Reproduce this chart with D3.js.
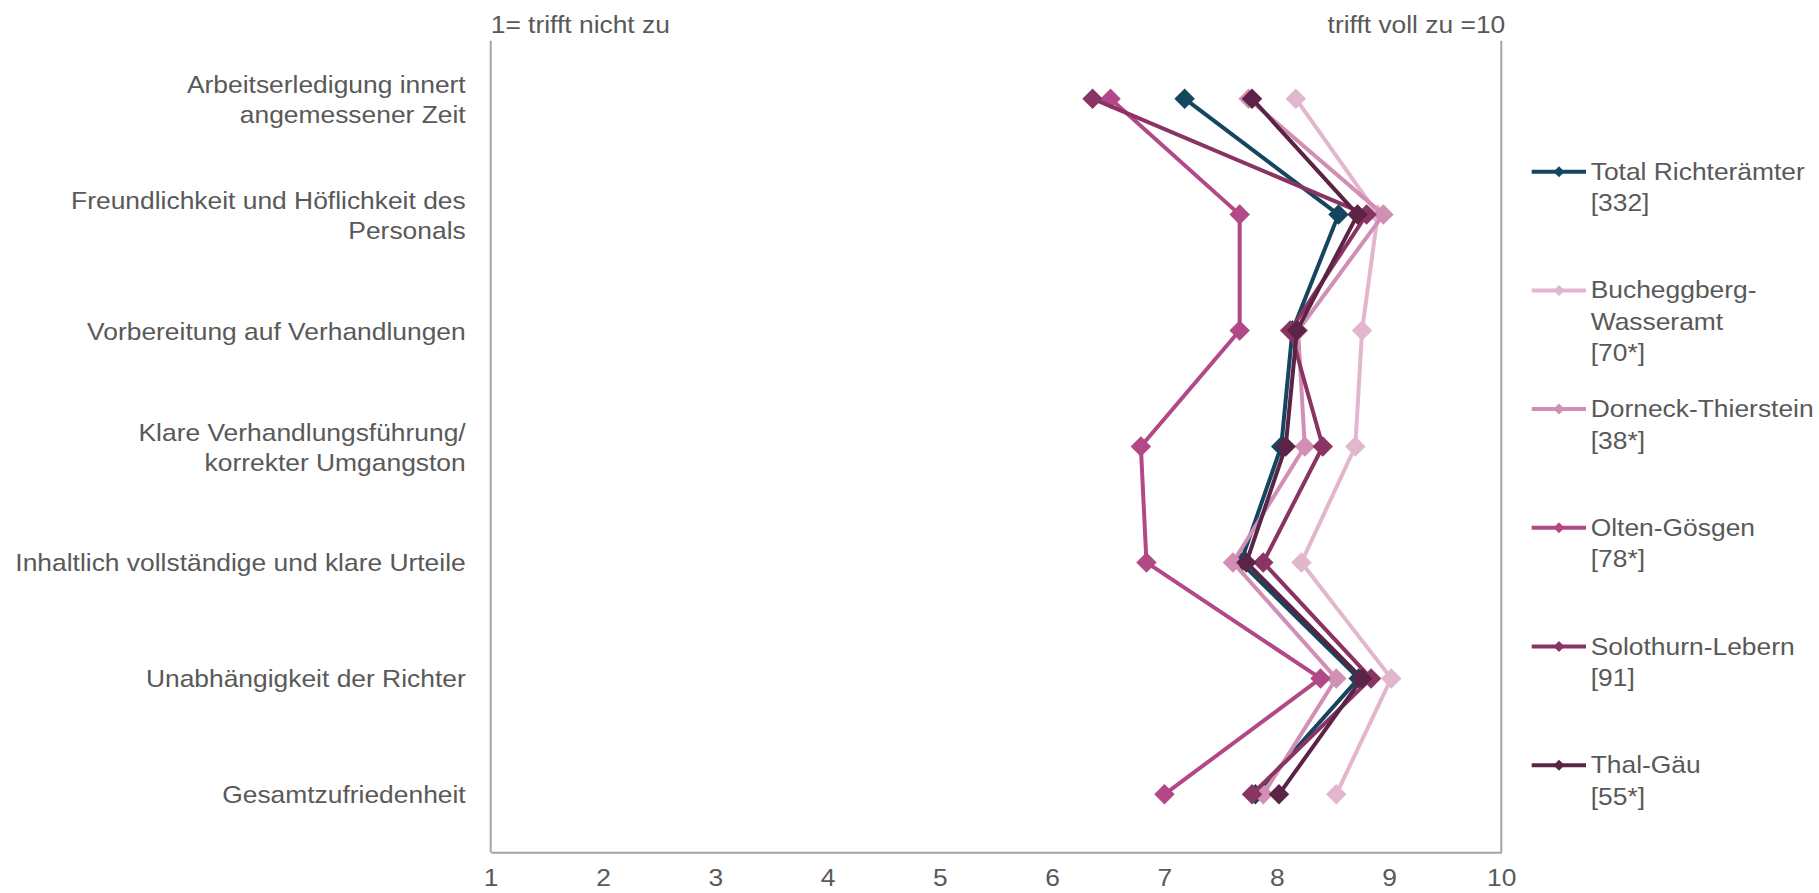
<!DOCTYPE html>
<html>
<head>
<meta charset="utf-8">
<script src="https://cdn.jsdelivr.net/npm/d3@7"></script>
<style>
  html, body { margin: 0; padding: 0; background: #ffffff; }
  svg text { font-family: "Liberation Sans", Arial, sans-serif; fill: #595959; }
</style>
</head>
<body>
<svg id="chart" width="1819" height="893"></svg>
<script>
// ---------- data ----------
const categories = [
  ["Arbeitserledigung innert", "angemessener Zeit"],
  ["Freundlichkeit und Höflichkeit des", "Personals"],
  ["Vorbereitung auf Verhandlungen"],
  ["Klare Verhandlungsführung/", "korrekter Umgangston"],
  ["Inhaltlich vollständige und klare Urteile"],
  ["Unabhängigkeit der Richter"],
  ["Gesamtzufriedenheit"]
];
const seriesNames = [
  ["Total Richterämter", "[332]"],
  ["Bucheggberg-", "Wasseramt", "[70*]"],
  ["Dorneck-Thierstein", "[38*]"],
  ["Olten-Gösgen", "[78*]"],
  ["Solothurn-Lebern", "[91]"],
  ["Thal-Gäu", "[55*]"]
];
const seriesColors = ["#15465f", "#e2b6cd", "#d28fb6", "#b24885", "#893463", "#5b2345"];
const totalValues       = [7.18, 8.55, 8.14, 8.04, 7.68, 8.73, 7.81];
const bucheggbergValues = [8.17, 8.90, 8.76, 8.70, 8.22, 9.02, 8.53];
const dorneckValues     = [7.75, 8.95, 8.19, 8.25, 7.61, 8.53, 7.88];
const oltenValues       = [6.52, 7.67, 7.67, 6.79, 6.84, 8.39, 7.00];
const solothurnValues   = [6.36, 8.80, 8.12, 8.41, 7.88, 8.84, 7.78];
const thalValues        = [7.78, 8.72, 8.18, 8.08, 7.73, 8.76, 8.02];
const seriesValues = [totalValues, bucheggbergValues, dorneckValues, oltenValues, solothurnValues, thalValues];
const xTicks = [1, 2, 3, 4, 5, 6, 7, 8, 9, 10];
const leftNote = "1= trifft nicht zu";
const rightNote = "trifft voll zu =10";

// ---------- layout ----------
const svg = d3.select("#chart");
const plot = { left: 490.7, right: 1501.3, top: 40.7, bottom: 852.3 };
const FS = 24, SX = 1.1;   // font size and horizontal stretch of text
const axisColor = "#a3a3a3";

const x = d3.scaleLinear().domain([1, 10]).range([plot.left, plot.right]);
const y = d3.scaleBand().domain(d3.range(categories.length)).range([plot.top, plot.bottom]);
const yc = i => y(i) + y.bandwidth() / 2;

function stretchedText(g, tx, ty, str, anchor) {
  return g.append("text")
    .attr("transform", `translate(${tx},${ty}) scale(${SX},1)`)
    .attr("text-anchor", anchor)
    .style("font-size", FS + "px")
    .text(str);
}

// frame lines (left, right axis lines; bottom axis)
svg.append("line").attr("x1", plot.left).attr("x2", plot.left)
  .attr("y1", plot.top).attr("y2", plot.bottom)
  .attr("stroke", axisColor).attr("stroke-width", 2);
svg.append("line").attr("x1", plot.right).attr("x2", plot.right)
  .attr("y1", plot.top).attr("y2", plot.bottom)
  .attr("stroke", axisColor).attr("stroke-width", 2);

const xAxis = d3.axisBottom(x).tickValues(xTicks).tickSize(0).tickPadding(0).tickFormat(d3.format("d"));
const gx = svg.append("g").attr("transform", `translate(0,${plot.bottom})`).call(xAxis);
gx.select(".domain").attr("stroke", axisColor).attr("stroke-width", 2);
gx.selectAll(".tick text")
  .attr("y", 34).attr("dy", 0)
  .attr("transform", `scale(${SX},1)`)
  .style("font-size", FS + "px")
  .style("font-family", '"Liberation Sans", Arial, sans-serif')
  .attr("fill", "#595959");

// top notes
const gNotes = svg.append("g");
stretchedText(gNotes, plot.left, 32.7, leftNote, "start");
stretchedText(gNotes, plot.right + 4, 32.7, rightNote, "end");

// category labels
const gCat = svg.append("g");
categories.forEach((lines, i) => {
  const n = lines.length;
  lines.forEach((ln, k) => {
    const by = yc(i) + 9 + (k - (n - 1) / 2) * 30;
    stretchedText(gCat, plot.left - 25, by, ln, "end");
  });
});

// series
const diamond = d3.symbol().type(d3.symbolSquare).size(210);
const line = d3.line().x(d => x(d.v)).y(d => yc(d.i));
seriesValues.forEach((vals, s) => {
  const pts = vals.map((v, i) => ({ v, i }));
  const g = svg.append("g");
  g.append("path").datum(pts)
    .attr("d", line)
    .attr("fill", "none")
    .attr("stroke", seriesColors[s])
    .attr("stroke-width", 4)
    .attr("stroke-linejoin", "round");
  g.selectAll("path.m").data(pts).enter().append("path")
    .attr("class", "m")
    .attr("d", diamond)
    .attr("transform", d => `translate(${x(d.v)},${yc(d.i)}) rotate(45)`)
    .attr("fill", seriesColors[s]);
});

// legend
const legendY0 = 171.7, legendStep = 118.7;
const gLeg = svg.append("g");
const legDiamond = d3.symbol().type(d3.symbolSquare).size(60);
seriesNames.forEach((lines, s) => {
  const cy = legendY0 + s * legendStep;
  gLeg.append("line").attr("x1", 1531.7).attr("x2", 1586)
    .attr("y1", cy).attr("y2", cy)
    .attr("stroke", seriesColors[s]).attr("stroke-width", 4);
  gLeg.append("path").attr("d", legDiamond)
    .attr("transform", `translate(1559,${cy}) rotate(45)`)
    .attr("fill", seriesColors[s]);
  lines.forEach((ln, k) => {
    stretchedText(gLeg, 1590.7, cy + 8 + k * 31.5, ln, "start");
  });
});
</script>
</body>
</html>
